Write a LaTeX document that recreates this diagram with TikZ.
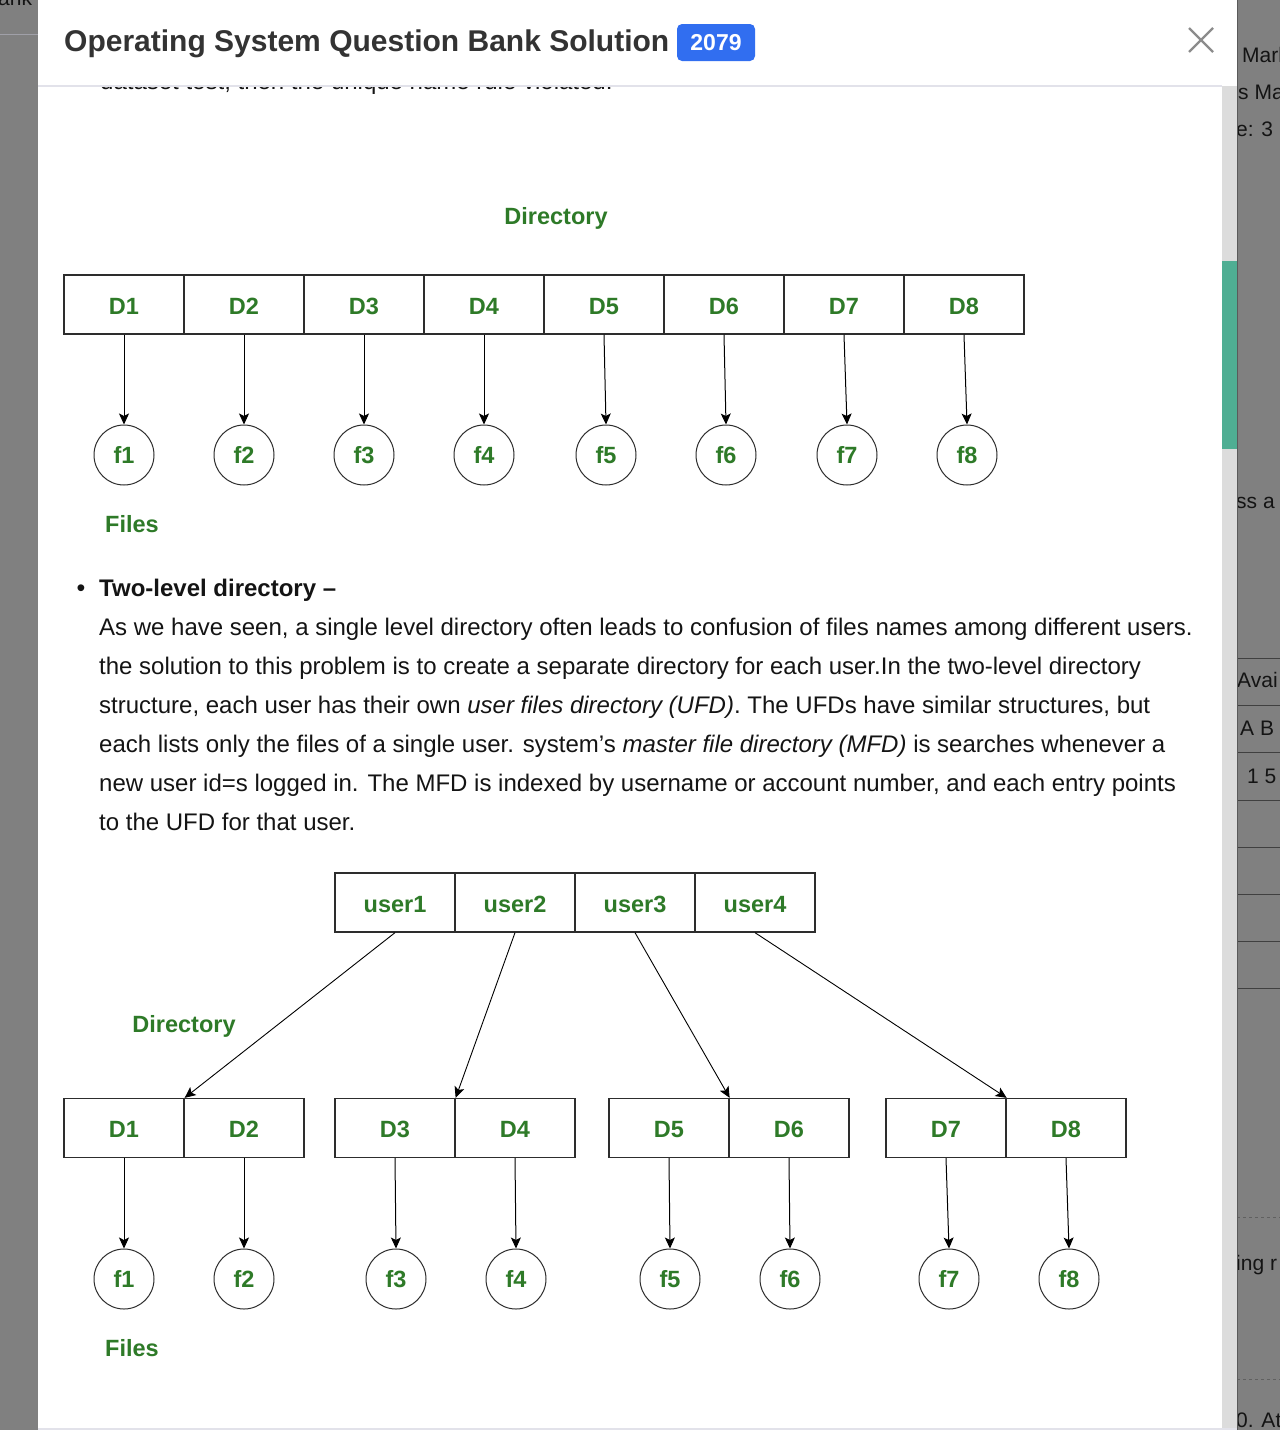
\documentclass[tikz,border=0pt]{standalone}
\usepackage{fontspec}
\setmainfont{Liberation Sans}
\usetikzlibrary{arrows.meta}
\definecolor{gfgreen}{RGB}{46,122,40}
\definecolor{dimgray}{RGB}{128,128,128}
\definecolor{titlegray}{RGB}{51,51,51}
\definecolor{badgeblue}{RGB}{49,110,240}
\definecolor{linegray}{RGB}{45,45,45}
\definecolor{hdrline}{RGB}{226,226,234}
\definecolor{track}{RGB}{220,220,220}
\definecolor{thumb}{RGB}{79,174,147}
\definecolor{bodytext}{RGB}{20,20,20}
\definecolor{stripline}{RGB}{160,160,168}
\newcommand\dglabel{\fontsize{23.5}{28}\selectfont\bfseries}
\newcommand\bodyfont{\fontsize{24}{28}\selectfont}
\newcommand\stripfont{\fontsize{21}{25}\selectfont}
\tikzset{
  cell/.style={draw=linegray, line width=1.3pt, minimum width=120pt, minimum height=59pt,
    inner sep=0pt, font=\dglabel, text=gfgreen, text depth=0pt, text height=19.6pt},
  file/.style={circle, draw=linegray, line width=1pt, minimum size=60pt, inner sep=0pt,
    font=\dglabel, text=gfgreen, text depth=0pt},
  lab/.style={font=\dglabel, text=gfgreen, text depth=0pt, inner sep=0pt},
  arr/.style={-{Stealth[length=11pt,width=10pt,inset=2.5pt]}, line width=1pt, draw=black},
  bodyline/.style={anchor=base west, inner sep=0pt, font=\bodyfont, text=bodytext},
  striptext/.style={anchor=base west, inner sep=0pt, font=\stripfont, text=black!92},
}
\begin{document}
\begin{tikzpicture}[x=1pt,y=-1pt]
\useasboundingbox (0,0) rectangle (1280,1430);
% dimmed page behind the modal
\fill[dimgray] (0,0) rectangle (1280,1430);
\begin{scope}
  \clip (0,0) rectangle (38,40);
  \draw[stripline, line width=1pt] (0,34) -- (38,34);
  \node[striptext] (tl) at (-2,5) {ank 2};
\end{scope}
\begin{scope}
  \clip (1237,0) rectangle (1280,1430);
  \node[striptext] (s1) at (1242,62) {Mark};
  \node[striptext] (s2) at (1238,99) {s Ma};
  \node[striptext] (s3) at (1236,136) {e: 3 H};
  \node[striptext] (s4) at (1236,508) {ss a};
  \node[striptext] (s5) at (1237,687) {Avai};
  \node[striptext] (s6) at (1240,735) {A B};
  \node[striptext] (s7) at (1247,783) {1 5};
  \node[striptext] (s8) at (1236,1270) {ing r};
  \node[striptext] (s9) at (1236,1427) {0. At};
  \foreach \yy in {658,705,752,800,847,894,941,988}
    \draw[color=black!75, line width=1pt] (1237,\yy) -- (1280,\yy);
  \draw[color=black!25!dimgray, dashed, line width=1pt] (1237,1217) -- (1280,1217);
  \draw[color=black!25!dimgray, dashed, line width=1pt] (1237,1379) -- (1280,1379);
  \draw[color=black!30!dimgray, line width=1pt] (1237.5,0) -- (1237.5,1430);
\end{scope}
% modal
\fill[white] (38,0) rectangle (1237,1428);
\fill[track] (1222,86) rectangle (1237,1428);
\fill[thumb] (1222,261) rectangle (1237,449);
\fill[hdrline] (38,1428) rectangle (1237,1430);
% scrolled text under header
\begin{scope}
  \clip (38,86) rectangle (1222,100);
  \node[bodyline] (cut) at (100,89) {dataset test, then the unique name rule violated.};
\end{scope}
\draw[hdrline, line width=1.2pt] (38,86) -- (1222,86);
% header
\node[anchor=base west, inner sep=0pt, font=\fontsize{30}{34}\selectfont\bfseries, text=titlegray]
  (title) at (64,51) {Operating System Question Bank Solution};
\fill[badgeblue, rounded corners=5pt] (677,24) rectangle (755,61);
\node[font=\fontsize{23}{26}\selectfont\bfseries, text=white, inner sep=0pt, text depth=0pt]
  (badge) at (716,42.5) {2079};
\coordinate (x1) at (1189,28);
\coordinate (x2) at (1213,52);
\coordinate (x3) at (1213,28);
\coordinate (x4) at (1189,52);
\draw[color=black!45, line width=2.4pt] (x1) -- (x2);
\draw[color=black!45, line width=2.4pt] (x3) -- (x4);

% ---------- single-level diagram ----------
\node[lab] (dirA) at (556,216) {Directory};
\foreach \i in {1,...,8}
  \node[cell] (a\i) at ({4+120*\i},304.5) {D\i};
\foreach \i/\x in {1/124,2/244,3/364,4/484,5/606,6/726,7/847,8/967}
  \node[file] (fa\i) at (\x,455) {f\i};
\foreach \i in {1,...,8}
  \draw[arr] (a\i.south) -- (fa\i.north);
\node[lab] (filesA) at (132,524) {Files};

% ---------- text ----------
\node[anchor=base, font=\fontsize{25}{28}\selectfont, text=bodytext, inner sep=0pt] (bul) at (81,596.5) {•};
\node[bodyline, font=\bodyfont\bfseries] (hd) at (99,596.5) {Two-level directory –};
\node[bodyline] (l1) at (99,635.5) {As we have seen, a single level directory often leads to confusion of files names among different users.};
\node[bodyline] (l2) at (99,674.5) {the solution to this problem is to create a separate directory for each user.In the two-level directory};
\node[bodyline] (l3) at (99,713.5) {structure, each user has their own \textit{user files directory (UFD)}. The UFDs have similar structures, but};
\node[bodyline] (l4) at (99,752.5) {each lists only the files of a single user. system’s \textit{master file directory (MFD)} is searches whenever a};
\node[bodyline] (l5) at (99,791.5) {new user id=s logged in. The MFD is indexed by username or account number, and each entry points};
\node[bodyline] (l6) at (99,830.5) {to the UFD for that user.};

% ---------- two-level diagram ----------
\foreach \i/\x in {1/395,2/515,3/635,4/755}
  \node[cell] (u\i) at (\x,902.5) {user\i};
\node[lab] (dirB) at (184,1024) {Directory};
\foreach \i/\x in {1/124,2/244,3/395,4/515,5/669,6/789,7/946,8/1066}
  \node[cell] (b\i) at (\x,1128) {D\i};
\foreach \i/\x in {1/124,2/244,3/396,4/516,5/670,6/790,7/949,8/1069}
  \node[file] (fb\i) at (\x,1279) {f\i};
\foreach \i in {1,...,8}
  \draw[arr] (b\i.south) -- (fb\i.north);
\draw[arr, line width=0.9pt] (u1.south) -- (b1.north east);
\draw[arr, line width=0.9pt] (u2.south) -- (b3.north east);
\draw[arr, line width=0.9pt] (u3.south) -- (b5.north east);
\draw[arr, line width=0.9pt] (u4.south) -- (b7.north east);
\node[lab] (filesB) at (132,1348) {Files};
\end{tikzpicture}
\end{document}
